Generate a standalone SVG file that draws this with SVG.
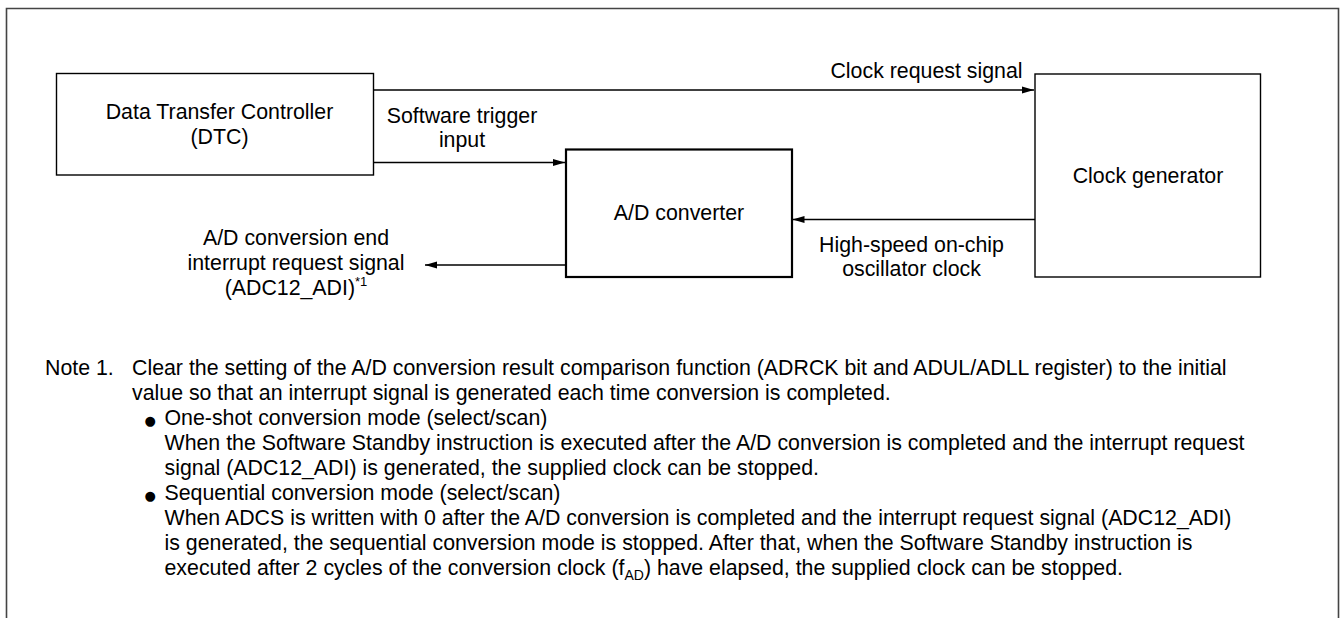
<svg xmlns="http://www.w3.org/2000/svg" width="1340" height="618" viewBox="0 0 1340 618">
<style>
text{font-family:"Liberation Sans",Arial,sans-serif;font-size:21.33px;fill:#000}
.c{text-anchor:middle}
.box{fill:#fff;stroke:#000;stroke-width:1.4}
.thick{stroke-width:2.2}
.ln{stroke:#000;stroke-width:1.4;fill:none}
.bul{font-family:"DejaVu Sans",sans-serif;font-size:13px}
</style>
<defs>
<marker id="ah" markerUnits="userSpaceOnUse" markerWidth="14" markerHeight="10" refX="12" refY="4" orient="auto">
<path d="M0,0.5 L12,4 L0,7.5 Z" fill="#000"/>
</marker>
</defs>
<rect width="1340" height="618" fill="#fff"/>
<path d="M6.5,620 V8.5 H1338.5 V620" fill="none" stroke="#444" stroke-width="1.6"/>

<g id="connectors">
<line class="ln" x1="373.5" y1="90" x2="1034" y2="90" marker-end="url(#ah)"/>
<line class="ln" x1="373.5" y1="162.5" x2="565" y2="162.5" marker-end="url(#ah)"/>
<line class="ln" x1="1035" y1="219.5" x2="792.5" y2="219.5" marker-end="url(#ah)"/>
<line class="ln" x1="565" y1="265" x2="425" y2="265" marker-end="url(#ah)"/>
<text class="c" x="926.5" y="77.5">Clock request signal</text>
<text class="c" x="462" y="122.5">Software trigger</text>
<text class="c" x="462" y="147">input</text>
<text class="c" x="911.5" y="252">High-speed on-chip</text>
<text class="c" x="911.5" y="276">oscillator clock</text>
<text class="c" x="296" y="245">A/D conversion end</text>
<text class="c" x="296" y="270">interrupt request signal</text>
<text class="c" x="296" y="295">(ADC12_ADI)<tspan font-size="13" dy="-9">*1</tspan></text>
</g>

<g id="dtc">
<rect class="box" x="56.5" y="73.5" width="317" height="101.5"/>
<text class="c" x="219.5" y="119">Data Transfer Controller</text>
<text class="c" x="219.5" y="143.5">(DTC)</text>
</g>

<g id="adc">
<rect class="box thick" x="566" y="149.5" width="226" height="127.5"/>
<text class="c" x="679" y="220">A/D converter</text>
</g>

<g id="clockgen">
<rect class="box" x="1035" y="74" width="225.5" height="203"/>
<text class="c" x="1148" y="183">Clock generator</text>
</g>

<g id="notes">
<text x="45" y="374.5">Note 1.</text>
<text x="132" y="374.5">Clear the setting of the A/D conversion result comparison function (ADRCK bit and ADUL/ADLL register) to the initial</text>
<text x="132" y="399.6">value so that an interrupt signal is generated each time conversion is completed.</text>
<text class="bul" x="144.5" y="424.7">●</text>
<text x="164.5" y="424.7">One-shot conversion mode (select/scan)</text>
<text x="164.5" y="449.8">When the Software Standby instruction is executed after the A/D conversion is completed and the interrupt request</text>
<text x="164.5" y="474.9">signal (ADC12_ADI) is generated, the supplied clock can be stopped.</text>
<text class="bul" x="144.5" y="500">●</text>
<text x="164.5" y="500">Sequential conversion mode (select/scan)</text>
<text x="164.5" y="525.1">When ADCS is written with 0 after the A/D conversion is completed and the interrupt request signal (ADC12_ADI)</text>
<text x="164.5" y="550.2">is generated, the sequential conversion mode is stopped. After that, when the Software Standby instruction is</text>
<text x="164.5" y="575.3">executed after 2 cycles of the conversion clock (f<tspan font-size="14" dy="5">AD</tspan><tspan dy="-5">) have elapsed, the supplied clock can be stopped.</tspan></text>
</g>
</svg>
